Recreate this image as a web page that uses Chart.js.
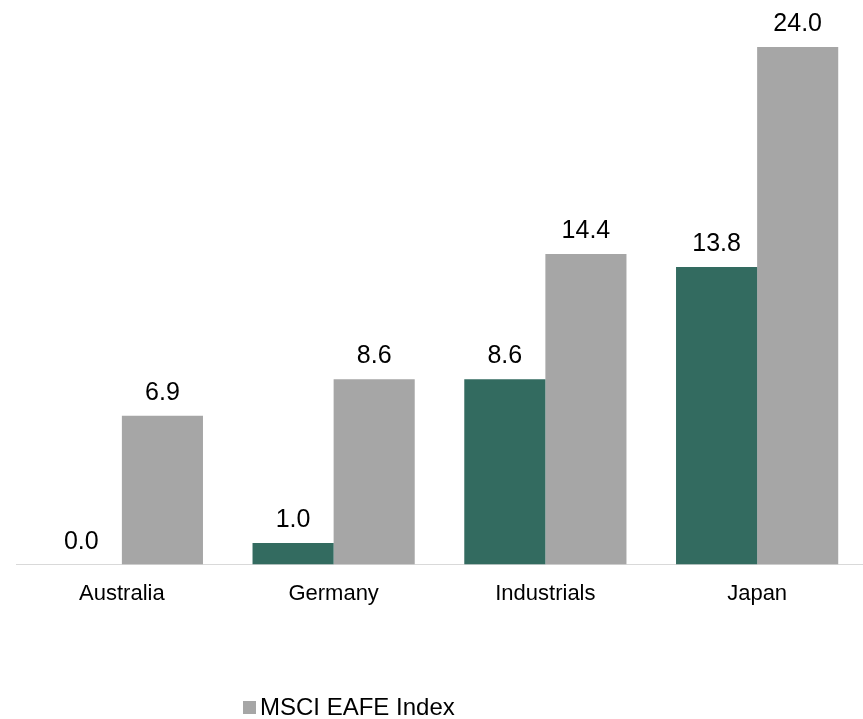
<!DOCTYPE html>
<html>
<head>
<meta charset="utf-8">
<script src="https://cdn.jsdelivr.net/npm/chart.js@4"></script>
<style>
html,body{margin:0;padding:0;background:#fff;}
#wrap{position:relative;width:863px;height:719px;}
#legend{position:absolute;left:243px;top:693px;font-family:"Liberation Sans",Arial,sans-serif;font-size:24px;color:#000;display:flex;align-items:center;white-space:nowrap;}
#legend span.box{display:inline-block;width:13px;height:13px;background:#A6A6A6;margin-right:4px;}
</style>
</head>
<body>
<div id="wrap">
<canvas id="c" width="863" height="719"></canvas>
<div id="legend"><span class="box"></span><span>MSCI EAFE Index</span></div>
</div>
<script>
const categories = ["Australia", "Germany", "Industrials", "Japan"];
const portfolioValues = [0.0, 1.0, 8.6, 13.8];
const indexValues = [6.9, 8.6, 14.4, 24.0];
const seriesNames = ["Portfolio", "MSCI EAFE Index"];

const labelPlugin = {
  id: 'valueLabels',
  afterDatasetsDraw(chart) {
    const ctx = chart.ctx;
    ctx.save();
    ctx.font = '25px "Liberation Sans", Arial, sans-serif';
    ctx.fillStyle = '#000';
    ctx.textAlign = 'center';
    ctx.textBaseline = 'alphabetic';
    chart.data.datasets.forEach((ds, i) => {
      chart.getDatasetMeta(i).data.forEach((bar, j) => {
        ctx.fillText(ds.data[j].toFixed(1), bar.x, bar.y - 16);
      });
    });
    ctx.restore();
  }
};

new Chart(document.getElementById('c'), {
  type: 'bar',
  data: {
    labels: categories,
    datasets: [
      { label: seriesNames[0], data: portfolioValues, backgroundColor: '#336B60', categoryPercentage: 0.766, barPercentage: 1.0 },
      { label: seriesNames[1], data: indexValues, backgroundColor: '#A6A6A6', categoryPercentage: 0.766, barPercentage: 1.0 }
    ]
  },
  options: {
    responsive: false,
    animation: false,
    layout: { padding: { left: 16, right: 0, top: 4, bottom: 96 } },
    plugins: { legend: { display: false }, tooltip: { enabled: false } },
    scales: {
      x: {
        grid: { display: false, drawTicks: false },
        border: { display: true, color: '#D9D9D9', width: 1 },
        ticks: { color: '#000', padding: 16, font: { family: '"Liberation Sans", Arial, sans-serif', size: 22 } }
      },
      y: {
        display: false,
        min: 0,
        max: 26
      }
    }
  },
  plugins: [labelPlugin]
});
</script>
</body>
</html>
